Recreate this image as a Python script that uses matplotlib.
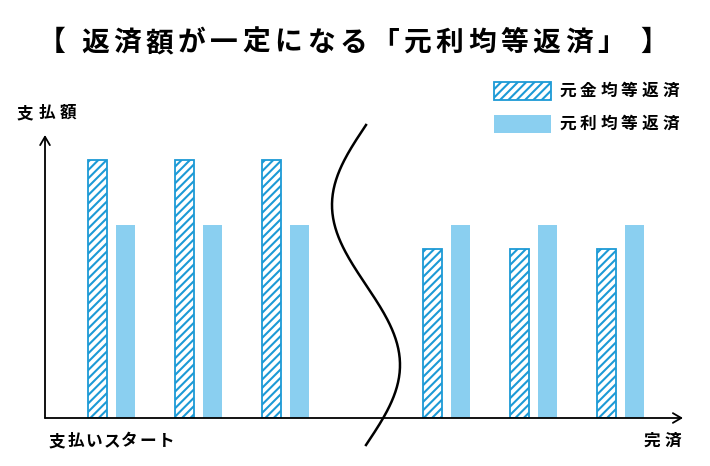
import numpy as np
import matplotlib
matplotlib.use("Agg")
import matplotlib.pyplot as plt
from matplotlib.patches import Rectangle

plt.rcParams['font.family'] = ['Noto Sans CJK JP', 'DejaVu Sans']
plt.rcParams['hatch.linewidth'] = 1.5

# data (heights in arbitrary units, level payment = 100)
periods = ["1", "2", "3", "n-2", "n-1", "n"]
principal_equal = [134, 134, 134, 88, 88, 88]   # 元金均等返済
level_payment = [100, 100, 100, 100, 100, 100]  # 元利均等返済
labels = ["元金均等返済", "元利均等返済"]

HATCH_BLUE = "#1c9ad6"
LIGHT_BLUE = "#8acff0"
W, H = 710, 466

fig = plt.figure(figsize=(7.1, 4.66), dpi=100)
renderer = fig.canvas.get_renderer()


def tracked(x_px, y_px, s, size, track, ha="left"):
    """draw text char by char with extra letter spacing (pixels from top-left)"""
    widths = []
    for ch in s:
        t = fig.text(0, 0, ch, fontsize=size, fontweight="bold")
        widths.append(t.get_window_extent(renderer).width)
        t.remove()
    total = sum(widths) + track * (len(s) - 1)
    x0 = {"left": x_px, "center": x_px - total / 2, "right": x_px - total}[ha]
    for ch, w in zip(s, widths):
        fig.text(x0 / W, 1 - y_px / H, ch, fontsize=size, fontweight="bold",
                 ha="left", va="center")
        x0 += w + track


ax = fig.add_axes([45 / W, 48 / H, (683 - 45) / W, (418 - 135) / H])

x = np.arange(len(periods), dtype=float) + 1
x[3:] += 0.85          # gap for the break mark
bw = 0.218
off = 0.161
ax.bar(x - off, principal_equal, width=bw, facecolor="white",
       edgecolor=HATCH_BLUE, hatch="////", linewidth=1.3)
ax.bar(x + off, level_payment, width=bw, color=LIGHT_BLUE, linewidth=0)

ax.set_xlim(0.236, 7.57)
ax.set_ylim(0, 147)
for s in ax.spines.values():
    s.set_visible(False)
ax.set_xticks([])
ax.set_yticks([])
ax.patch.set_alpha(0)

# axis arrows
arrow = dict(arrowstyle="->,head_length=0.6,head_width=0.35", lw=1.3, color="black",
             shrinkA=0, shrinkB=0)
ax.annotate("", xy=(1, 0), xytext=(0, 0), xycoords="axes fraction",
            arrowprops=arrow)
ax.annotate("", xy=(0, 1), xytext=(0, 0), xycoords="axes fraction",
            arrowprops=arrow)

# break mark (S curve), in figure pixel space
yy = np.linspace(125, 445, 200)
xx = 366 - 34 * np.sin(2 * np.pi * (yy - 125) / 320)
fig.add_artist(plt.Line2D(xx / W, 1 - yy / H, color="black", lw=1.8,
                          transform=fig.transFigure))

# texts
tracked(W / 2 - 2, 43, "【 返済額が一定になる「元利均等返済」 】", 20, 4.5, ha="center")
tracked(17, 113, "支払額", 12, 4.5)
tracked(49, 441, "支払いスタート", 12, 1.5)
tracked(681, 441, "完済", 12, 4.5, ha="right")

# legend
keys = [dict(facecolor="white", edgecolor=HATCH_BLUE, hatch="////", linewidth=1.3),
        dict(facecolor=LIGHT_BLUE, linewidth=0)]
for i, (lab, kw) in enumerate(zip(labels, keys)):
    top = 82 + 33 * i
    fig.add_artist(Rectangle((494 / W, 1 - (top + 18) / H), 57 / W, 18 / H,
                             transform=fig.transFigure, **kw))
    tracked(559, top + 9, lab, 12, 4)

fig.savefig("out.png", dpi=100)
